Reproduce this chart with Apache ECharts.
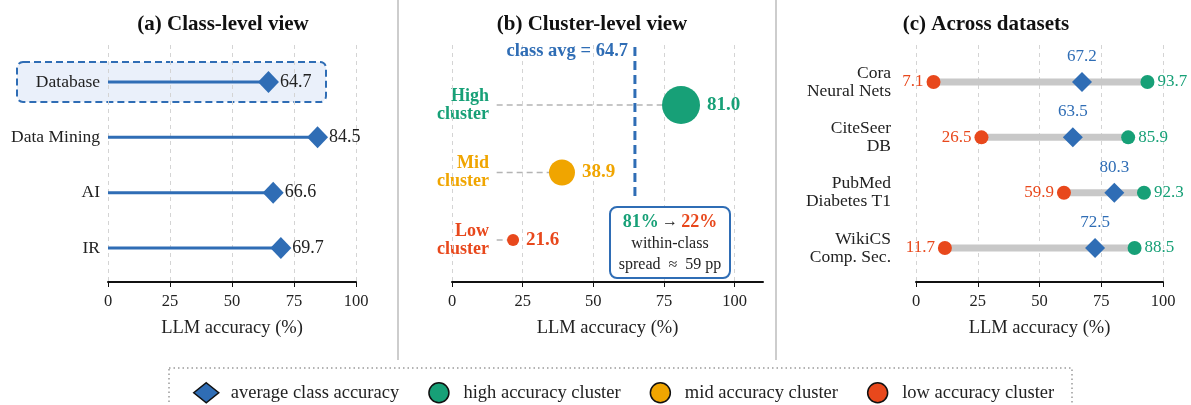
<!DOCTYPE html>
<html>
<head>
<meta charset="utf-8">
<script src="https://cdn.jsdelivr.net/npm/echarts@6/dist/echarts.min.js"></script>
<style>
  html, body { margin: 0; padding: 0; background: #fff; }
  #main { width: 1191px; height: 405px; }
</style>
</head>
<body>
<div id="main"></div>
<script>
// panel (a): class level
var classNames = ['Database', 'Data Mining', 'AI', 'IR'];
var classAcc = [64.7, 84.5, 66.6, 69.7];

// panel (b): clusters inside the Database class
var clusterNames = ['High\ncluster', 'Mid\ncluster', 'Low\ncluster'];
var clusterAcc = [81.0, 38.9, 21.6];
var clusterSize = [38, 26, 12];
var classAvg = 64.7;

// panel (c): across datasets
var datasetNames = ['Cora\nNeural Nets', 'CiteSeer\nDB', 'PubMed\nDiabetes T1', 'WikiCS\nComp. Sec.'];
var dsLow = [7.1, 26.5, 59.9, 11.7];
var dsAvg = [67.2, 63.5, 80.3, 72.5];
var dsHigh = [93.7, 85.9, 92.3, 88.5];

var xTicks = [0, 25, 50, 75, 100];

var FONT = 'Liberation Serif';
var BLUE = '#2f6db5', GREEN = '#17a077', ORANGE = '#f0a500', RED = '#e8481c';
var INK = '#222';

var chart = echarts.init(document.getElementById('main'));

function xAxisCfg(gi, max) {
    return {
        type: 'value', gridIndex: gi, min: 0, max: max, interval: 25,
        axisLine: { show: true, onZero: false, lineStyle: { color: '#111', width: 2 } },
        axisTick: { show: true, length: 5, lineStyle: { color: '#111' }, customValues: xTicks },
        axisLabel: { fontFamily: FONT, fontSize: 16.5, color: INK, margin: 11, customValues: xTicks },
        splitLine: { show: max === 100, lineStyle: { type: [4, 4], color: '#d4d4d4' } },
        name: 'LLM accuracy (%)', nameLocation: 'middle', nameGap: 37,
        nameTextStyle: { fontFamily: FONT, fontSize: 18.5, color: INK }
    };
}

function yAxisCfg(gi, names, min, max, margin, labelStyle) {
    return {
        type: 'value', gridIndex: gi, inverse: true, min: min, max: max,
        axisLine: { show: false }, axisTick: { show: false }, splitLine: { show: false },
        axisLabel: Object.assign({
            customValues: names.map(function (n, i) { return i; }),
            margin: margin, fontFamily: FONT, fontSize: 17, color: INK, lineHeight: 18,
            formatter: function (v) { return names[v]; }
        }, labelStyle || {})
    };
}

// draws a segment from value[0] to value[1] on row value[2]
function segment(color, width, dash) {
    return function (params, api) {
        var a = api.coord([api.value(0), api.value(2)]);
        var b = api.coord([api.value(1), api.value(2)]);
        return {
            type: 'line',
            shape: { x1: a[0], y1: a[1], x2: b[0], y2: b[1] },
            style: { stroke: color, lineWidth: width, lineDash: dash || null }
        };
    };
}

var clusterColors = [GREEN, ORANGE, RED];
var clusterSeriesNames = ['high accuracy cluster', 'mid accuracy cluster', 'low accuracy cluster'];

var series = [];

// (a) stems + diamonds
series.push({
    type: 'custom', xAxisIndex: 0, yAxisIndex: 0, z: 3, silent: true,
    renderItem: segment(BLUE, 3),
    encode: { x: [0, 1], y: 2 },
    data: classAcc.map(function (v, i) { return [0, v, i]; })
});
series.push({
    name: 'average class accuracy', type: 'scatter', xAxisIndex: 0, yAxisIndex: 0, z: 5,
    symbol: 'diamond', symbolSize: [21, 22],
    itemStyle: { color: BLUE, opacity: 1 },
    label: { show: true, position: 'right', distance: 1, fontFamily: FONT, fontSize: 18, color: INK,
        formatter: function (p) { return p.value[0].toFixed(1); } },
    data: classAcc.map(function (v, i) { return [v, i]; })
});

// (b) dashed guides, bubbles, class average line
series.push({
    type: 'custom', xAxisIndex: 1, yAxisIndex: 1, z: 3, silent: true,
    renderItem: segment('#b4b4b4', 1.5, [6, 4]),
    encode: { x: [0, 1], y: 2 },
    data: clusterAcc.map(function (v, i) { return [15.8, v, i]; }),
    markLine: {
        silent: true, symbol: 'none', label: { show: false },
        lineStyle: { type: [4, 4], color: '#d4d4d4', width: 1 },
        data: xTicks.map(function (t) { return { xAxis: t }; })
    }
});
clusterAcc.forEach(function (v, i) {
    series.push({
        name: clusterSeriesNames[i], type: 'scatter', xAxisIndex: 1, yAxisIndex: 1, z: 5,
        symbol: 'circle', symbolSize: clusterSize[i],
        itemStyle: { color: clusterColors[i], opacity: 1 },
        label: { show: true, position: 'right', distance: 7, fontFamily: FONT, fontSize: 19,
            fontWeight: 'bold', color: clusterColors[i],
            formatter: function (p) { return p.value[0].toFixed(1); } },
        data: [[v, i]]
    });
});
series.push({
    type: 'line', xAxisIndex: 1, yAxisIndex: 1, z: 4, silent: true,
    symbol: 'none', lineStyle: { color: BLUE, width: 3, type: [9, 5] },
    data: [[classAvg, -0.86], [classAvg, 1.41]]
});

// (c) range bars, low / high / average markers
series.push({
    type: 'custom', xAxisIndex: 2, yAxisIndex: 2, z: 3, silent: true,
    renderItem: segment('#c8c8c8', 7),
    encode: { x: [0, 1], y: 2 },
    data: dsLow.map(function (v, i) { return [v, dsHigh[i], i]; })
});
series.push({
    name: 'low accuracy cluster', type: 'scatter', xAxisIndex: 2, yAxisIndex: 2, z: 5,
    symbol: 'circle', symbolSize: 14, itemStyle: { color: RED, opacity: 1 },
    label: { show: true, position: 'left', distance: 3, fontFamily: FONT, fontSize: 17, color: RED,
        formatter: function (p) { return p.value[0].toFixed(1); } },
    data: dsLow.map(function (v, i) { return [v, i]; })
});
series.push({
    name: 'high accuracy cluster', type: 'scatter', xAxisIndex: 2, yAxisIndex: 2, z: 5,
    symbol: 'circle', symbolSize: 14, itemStyle: { color: GREEN, opacity: 1 },
    label: { show: true, position: 'right', distance: 3, fontFamily: FONT, fontSize: 17, color: GREEN,
        formatter: function (p) { return p.value[0].toFixed(1); } },
    data: dsHigh.map(function (v, i) { return [v, i]; })
});
series.push({
    name: 'average class accuracy', type: 'scatter', xAxisIndex: 2, yAxisIndex: 2, z: 6,
    symbol: 'diamond', symbolSize: [20, 20], itemStyle: { color: BLUE, opacity: 1 },
    label: { show: true, position: 'top', distance: 7, fontFamily: FONT, fontSize: 17, color: BLUE,
        formatter: function (p) { return p.value[0].toFixed(1); } },
    data: dsAvg.map(function (v, i) { return [v, i]; })
});

var clusterRich = {};
clusterColors.forEach(function (c, i) {
    clusterRich['c' + i] = { fontFamily: FONT, fontSize: 18, fontWeight: 'bold', color: c, lineHeight: 18 };
});

var option = {
    animation: false,
    textStyle: { fontFamily: FONT },
    title: [
        { text: '(a) Class-level view', left: 218, top: 9, textAlign: 'center' },
        { text: '(b) Cluster-level view', left: 587, top: 9, textAlign: 'center' },
        { text: '(c) Across datasets', left: 981, top: 9, textAlign: 'center' }
    ].map(function (t) {
        t.textStyle = { fontFamily: FONT, fontSize: 21, fontWeight: 'bold', color: '#111' };
        return t;
    }),
    grid: [
        { left: 108, width: 248, top: 45, height: 237 },
        { left: 452, width: 311, top: 45, height: 237 },
        { left: 916, width: 247, top: 45, height: 237 }
    ],
    xAxis: [xAxisCfg(0, 100), xAxisCfg(1, 110), xAxisCfg(2, 100)],
    yAxis: [
        yAxisCfg(0, classNames, -0.669, 3.614, 8, { fontSize: 17.5 }),
        yAxisCfg(1, clusterNames, -0.889, 2.622, -37, {
            rich: clusterRich,
            formatter: function (v) {
                return clusterNames[v].split('\n').map(function (s) { return '{c' + v + '|' + s + '}'; }).join('\n');
            }
        }),
        yAxisCfg(2, datasetNames, -0.669, 3.614, 25, { fontSize: 17.5, lineHeight: 18 })
    ],
    legend: {
        left: 188, top: 377, itemWidth: 25, itemHeight: 20, itemGap: 29,
        selectedMode: false,
        textStyle: { fontFamily: FONT, fontSize: 18.5, color: INK, padding: [0, 0, 0, 7] },
        itemStyle: { borderColor: '#111', borderWidth: 1.5, opacity: 1 },
        data: [
            { name: 'average class accuracy', icon: 'diamond' },
            { name: 'high accuracy cluster', icon: 'circle' },
            { name: 'mid accuracy cluster', icon: 'circle' },
            { name: 'low accuracy cluster', icon: 'circle' }
        ]
    },
    graphic: [
        // highlighted Database row
        { type: 'rect', z: -1, shape: { x: 17, y: 62, width: 309, height: 40, r: 6 },
          style: { fill: '#eaf0fa', stroke: BLUE, lineWidth: 2, lineDash: [7, 4] } },
        // panel separators
        { type: 'line', shape: { x1: 398, y1: 0, x2: 398, y2: 360 }, style: { stroke: '#bdbdbd', lineWidth: 1.5 } },
        { type: 'line', shape: { x1: 776, y1: 0, x2: 776, y2: 360 }, style: { stroke: '#bdbdbd', lineWidth: 1.5 } },
        // class average label
        { type: 'text', x: 628, y: 51, z: 10,
          style: { text: 'class avg = ' + classAvg.toFixed(1), align: 'right', verticalAlign: 'middle',
                   font: 'bold 18.5px "Liberation Serif"', fill: BLUE } },
        // spread annotation box
        { type: 'rect', z: 10, shape: { x: 610, y: 207, width: 120, height: 71, r: 7 },
          style: { fill: '#fff', stroke: BLUE, lineWidth: 2 } },
        { type: 'text', x: 670, y: 243, z: 11,
          style: {
              text: '{g|81%} {k|\u2192} {r|22%}\n{n|within-class}\n{n|spread  \u2248  59 pp}',
              align: 'center', verticalAlign: 'middle',
              rich: {
                  g: { font: 'bold 18px "Liberation Serif"', fill: GREEN, lineHeight: 23 },
                  r: { font: 'bold 18px "Liberation Serif"', fill: RED, lineHeight: 23 },
                  k: { font: '16px "Liberation Serif"', fill: INK, lineHeight: 23 },
                  n: { font: '16px "Liberation Serif"', fill: INK, lineHeight: 21 }
              }
          } },
        // legend frame
        { type: 'rect', shape: { x: 169, y: 368, width: 903, height: 50 },
          style: { fill: null, stroke: '#9a9a9a', lineWidth: 1.5, lineDash: [1.5, 3] } }
    ],
    series: series
};

chart.setOption(option);
</script>
</body>
</html>
